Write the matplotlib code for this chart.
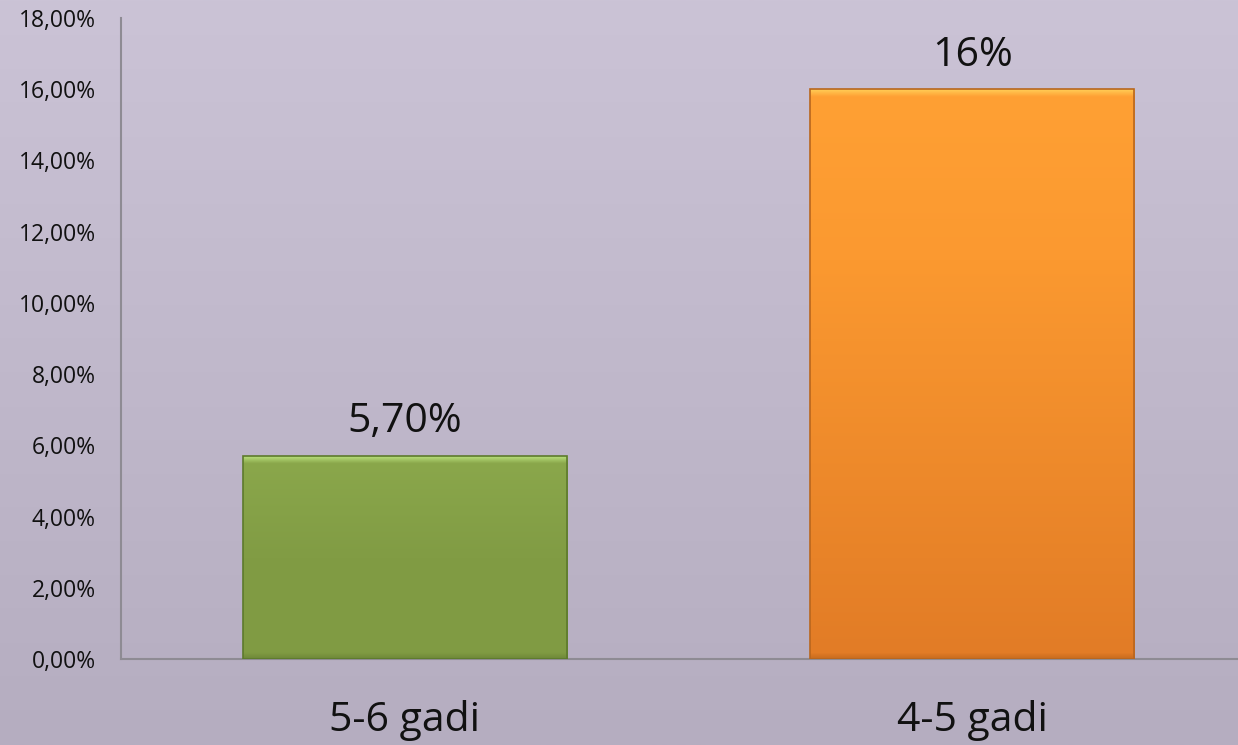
import numpy as np
import matplotlib
matplotlib.use("Agg")
import matplotlib.pyplot as plt
from matplotlib.colors import to_rgb

categories = ["5-6 gadi", "4-5 gadi"]
values = [5.70, 16.0]
value_labels = ["5,70%", "16%"]
yticks = [0, 2, 4, 6, 8, 10, 12, 14, 16, 18]
ytick_labels = ["0,00%", "2,00%", "4,00%", "6,00%", "8,00%", "10,00%",
                "12,00%", "14,00%", "16,00%", "18,00%"]

plt.rcParams['font.family'] = ['Open Sans', 'DejaVu Sans']

W, H = 1238, 745
fig = plt.figure(figsize=(W / 100, H / 100), dpi=100)

# background gradient
bg = fig.add_axes([0, 0, 1, 1], zorder=-10)
top_c = np.array(to_rgb("#cbc3d6"))
bot_c = np.array(to_rgb("#b5adc0"))
t = np.linspace(0, 1, 256)[:, None]
grad = (top_c * (1 - t) + bot_c * t)[:, None, :]
bg.imshow(grad, aspect='auto', extent=[0, 1, 0, 1])
bg.set_axis_off()

ax = fig.add_axes([121 / W, (H - 659) / H, 1 - 121 / W, (659 - 18) / H])
ax.patch.set_alpha(0)

x = np.arange(len(categories))
bar_w = 0.571
face = ["#829d45", "#f5922f"]
edges = ["#5d7a2c", "#b8661e"]
bars = ax.bar(x, values, width=bar_w, color=face, edgecolor=edges, linewidth=1.2, zorder=3)

ax.set_xlim(-0.5, 1.468)
ax.set_ylim(0, 18)

fig.canvas.draw()

# gradient fills with bevel highlight
stops = [
    [("#b9e07c", 0.0), ("#8aa74b", 0.035), ("#819c44", 0.5), ("#809b43", 0.97), ("#6d8738", 1.0)],
    [("#ffcc55", 0.0), ("#ffa034", 0.012), ("#fb9930", 0.3), ("#e27c26", 0.99), ("#c96c20", 1.0)],
]
for b, st in zip(bars, stops):
    bx, by = b.get_x(), b.get_y()
    bw, bh = b.get_width(), b.get_height()
    n = 400
    tt = np.linspace(0, 1, n)
    pos = [s[1] for s in st]
    cols = np.array([to_rgb(s[0]) for s in st])
    img = np.stack([np.interp(tt, pos, cols[:, k]) for k in range(3)], axis=-1)[:, None, :]
    im = ax.imshow(img, aspect='auto', extent=[bx, bx + bw, by, by + bh],
                   zorder=3.5, interpolation='bilinear')
    im.set_clip_path(b)
    b.set_facecolor("none")
    b.set_zorder(4)

ax.set_aspect('auto')
ax.set_xlim(-0.5, 1.468)
ax.set_ylim(0, 18)

for xi, v, lab in zip(x, values, value_labels):
    ax.annotate(lab, xy=(xi, v), xytext=(0, 17), textcoords='offset points',
                ha='center', va='baseline', fontsize=29.5, color='#111111')

ax.set_yticks(yticks)
ax.set_yticklabels(ytick_labels, fontsize=16.5, color='#111111')
ax.set_xticks(x)
ax.set_xticklabels(categories, fontsize=29.5, color='#111111')
for lab in ax.get_xticklabels():
    lab.set_va('baseline')
ax.tick_params(axis='y', length=0, pad=18)
ax.tick_params(axis='x', length=0, pad=51.5)

for s in ['top', 'right']:
    ax.spines[s].set_visible(False)
for s in ['left', 'bottom']:
    ax.spines[s].set_color('#8e8b93')
    ax.spines[s].set_linewidth(1.5)

fig.savefig("out.png", dpi=100)
